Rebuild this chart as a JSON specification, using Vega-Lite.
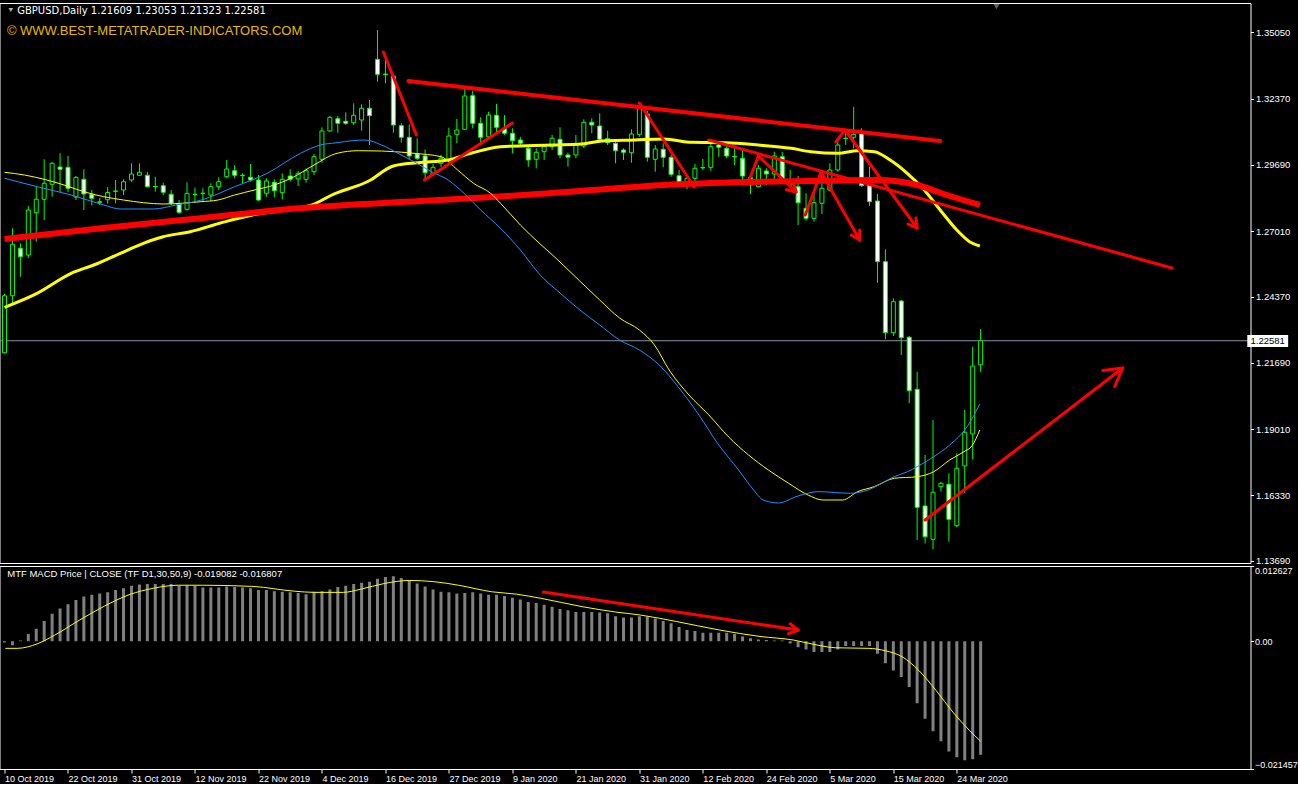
{
"$schema": "https://vega.github.io/schema/vega-lite/v6.json",
"background": "#000000",
"padding": {"left": -1.5, "top": 2, "right": 0, "bottom": 0},
"spacing": 3,
"bounds": "flush",
"config": {"view": {"stroke": "#ffffff", "strokeWidth": 1}, "text": {"font": "Liberation Sans"}},
"datasets": {
"candles": [
{"k":0,"o":1.22098,"h":1.24471,"l":1.22066,"c":1.24399},
{"k":1,"o":1.24403,"h":1.27127,"l":1.24027,"c":1.26480},
{"k":2,"o":1.26319,"h":1.26521,"l":1.25171,"c":1.25979},
{"k":3,"o":1.26048,"h":1.28029,"l":1.25927,"c":1.27867},
{"k":4,"o":1.27758,"h":1.28809,"l":1.26586,"c":1.28300},
{"k":5,"o":1.28300,"h":1.29917,"l":1.27463,"c":1.28946},
{"k":6,"o":1.28906,"h":1.29807,"l":1.28405,"c":1.29755},
{"k":7,"o":1.29605,"h":1.30159,"l":1.28595,"c":1.29512},
{"k":8,"o":1.29593,"h":1.30050,"l":1.28587,"c":1.28744},
{"k":9,"o":1.28392,"h":1.29241,"l":1.28271,"c":1.29185},
{"k":10,"o":1.29108,"h":1.29512,"l":1.27867,"c":1.28514},
{"k":11,"o":1.28502,"h":1.28675,"l":1.28049,"c":1.28340},
{"k":12,"o":1.28198,"h":1.28352,"l":1.28069,"c":1.28178},
{"k":13,"o":1.28283,"h":1.28797,"l":1.28122,"c":1.28574},
{"k":14,"o":1.28635,"h":1.29080,"l":1.28138,"c":1.28623},
{"k":15,"o":1.28675,"h":1.29108,"l":1.28473,"c":1.29011},
{"k":16,"o":1.29080,"h":1.29755,"l":1.29011,"c":1.29322},
{"k":17,"o":1.29270,"h":1.29755,"l":1.29262,"c":1.29391},
{"k":18,"o":1.29270,"h":1.29415,"l":1.28785,"c":1.28809},
{"k":19,"o":1.28817,"h":1.29213,"l":1.28607,"c":1.28805},
{"k":20,"o":1.28849,"h":1.28971,"l":1.28473,"c":1.28583},
{"k":21,"o":1.28502,"h":1.28675,"l":1.28069,"c":1.28138},
{"k":22,"o":1.28110,"h":1.28271,"l":1.27705,"c":1.27774},
{"k":23,"o":1.27895,"h":1.28987,"l":1.27839,"c":1.28542},
{"k":24,"o":1.28506,"h":1.28768,"l":1.28203,"c":1.28494},
{"k":25,"o":1.28546,"h":1.28744,"l":1.28203,"c":1.28534},
{"k":26,"o":1.28473,"h":1.28946,"l":1.28231,"c":1.28809},
{"k":27,"o":1.28809,"h":1.29189,"l":1.28675,"c":1.29011},
{"k":28,"o":1.29213,"h":1.29888,"l":1.29148,"c":1.29524},
{"k":29,"o":1.29456,"h":1.29686,"l":1.29148,"c":1.29270},
{"k":30,"o":1.29274,"h":1.29351,"l":1.28918,"c":1.29262},
{"k":31,"o":1.29189,"h":1.29726,"l":1.29011,"c":1.29080},
{"k":32,"o":1.29080,"h":1.29282,"l":1.28231,"c":1.28271},
{"k":33,"o":1.28542,"h":1.29148,"l":1.28405,"c":1.29039},
{"k":34,"o":1.28987,"h":1.29108,"l":1.28380,"c":1.28647},
{"k":35,"o":1.28566,"h":1.29351,"l":1.28300,"c":1.29108},
{"k":36,"o":1.29241,"h":1.29512,"l":1.29011,"c":1.29108},
{"k":37,"o":1.29120,"h":1.29444,"l":1.28837,"c":1.29351},
{"k":38,"o":1.29108,"h":1.29553,"l":1.28971,"c":1.29456},
{"k":39,"o":1.29415,"h":1.30131,"l":1.29282,"c":1.30022},
{"k":40,"o":1.29917,"h":1.31210,"l":1.29779,"c":1.31061},
{"k":41,"o":1.31061,"h":1.31667,"l":1.31032,"c":1.31614},
{"k":42,"o":1.31558,"h":1.31667,"l":1.30992,"c":1.31372},
{"k":43,"o":1.31453,"h":1.31816,"l":1.31303,"c":1.31372},
{"k":44,"o":1.31396,"h":1.32180,"l":1.31303,"c":1.31695},
{"k":45,"o":1.31505,"h":1.32140,"l":1.31073,"c":1.31978},
{"k":46,"o":1.31978,"h":1.32314,"l":1.30495,"c":1.31679},
{"k":47,"o":1.33959,"h":1.35143,"l":1.33053,"c":1.33352},
{"k":48,"o":1.33365,"h":1.33931,"l":1.32989,"c":1.33340},
{"k":49,"o":1.33284,"h":1.33324,"l":1.30992,"c":1.31303},
{"k":50,"o":1.31275,"h":1.31372,"l":1.30588,"c":1.30806},
{"k":51,"o":1.30806,"h":1.31331,"l":1.29917,"c":1.30050},
{"k":52,"o":1.30131,"h":1.30765,"l":1.29888,"c":1.29957},
{"k":53,"o":1.30050,"h":1.30321,"l":1.29108,"c":1.29375},
{"k":54,"o":1.29322,"h":1.29726,"l":1.29241,"c":1.29593},
{"k":55,"o":1.29755,"h":1.30090,"l":1.29617,"c":1.29957},
{"k":56,"o":1.29888,"h":1.31194,"l":1.29779,"c":1.30858},
{"k":57,"o":1.30927,"h":1.31546,"l":1.30563,"c":1.31101},
{"k":58,"o":1.31129,"h":1.32787,"l":1.31101,"c":1.32475},
{"k":59,"o":1.32487,"h":1.32690,"l":1.31170,"c":1.31372},
{"k":60,"o":1.31372,"h":1.31614,"l":1.30588,"c":1.30806},
{"k":61,"o":1.30830,"h":1.31841,"l":1.30806,"c":1.31707},
{"k":62,"o":1.31695,"h":1.32152,"l":1.30992,"c":1.31210},
{"k":63,"o":1.31170,"h":1.31707,"l":1.30899,"c":1.30968},
{"k":64,"o":1.30968,"h":1.31170,"l":1.30159,"c":1.30668},
{"k":65,"o":1.30697,"h":1.30830,"l":1.30495,"c":1.30563},
{"k":66,"o":1.30361,"h":1.30495,"l":1.29617,"c":1.29888},
{"k":67,"o":1.29917,"h":1.30361,"l":1.29553,"c":1.30199},
{"k":68,"o":1.30224,"h":1.30495,"l":1.29888,"c":1.30426},
{"k":69,"o":1.30426,"h":1.30899,"l":1.30292,"c":1.30765},
{"k":70,"o":1.30725,"h":1.31210,"l":1.29957,"c":1.30090},
{"k":71,"o":1.30090,"h":1.30183,"l":1.29617,"c":1.29997},
{"k":72,"o":1.30090,"h":1.30899,"l":1.29957,"c":1.30495},
{"k":73,"o":1.30454,"h":1.31533,"l":1.30361,"c":1.31412},
{"k":74,"o":1.31412,"h":1.31574,"l":1.30968,"c":1.31303},
{"k":75,"o":1.31263,"h":1.31776,"l":1.30588,"c":1.30725},
{"k":76,"o":1.30749,"h":1.31073,"l":1.30495,"c":1.30588},
{"k":77,"o":1.30563,"h":1.30697,"l":1.29755,"c":1.30264},
{"k":78,"o":1.30292,"h":1.30361,"l":1.29888,"c":1.30199},
{"k":79,"o":1.30183,"h":1.31129,"l":1.29779,"c":1.30939},
{"k":80,"o":1.30927,"h":1.32112,"l":1.30830,"c":1.31978},
{"k":81,"o":1.31748,"h":1.31881,"l":1.29819,"c":1.29997},
{"k":82,"o":1.29917,"h":1.30495,"l":1.29415,"c":1.30333},
{"k":83,"o":1.30321,"h":1.30563,"l":1.29593,"c":1.29997},
{"k":84,"o":1.29997,"h":1.30090,"l":1.29213,"c":1.29310},
{"k":85,"o":1.29254,"h":1.29484,"l":1.28809,"c":1.28971},
{"k":86,"o":1.28878,"h":1.29282,"l":1.28716,"c":1.29148},
{"k":87,"o":1.29148,"h":1.29726,"l":1.28946,"c":1.29553},
{"k":88,"o":1.29585,"h":1.29929,"l":1.29484,"c":1.29569},
{"k":89,"o":1.29593,"h":1.30697,"l":1.29456,"c":1.30426},
{"k":90,"o":1.30495,"h":1.30588,"l":1.30022,"c":1.30402},
{"k":91,"o":1.30361,"h":1.30495,"l":1.29957,"c":1.30050},
{"k":92,"o":1.30030,"h":1.30426,"l":1.29686,"c":1.30018},
{"k":93,"o":1.29957,"h":1.30292,"l":1.29011,"c":1.29241},
{"k":94,"o":1.29173,"h":1.29282,"l":1.28514,"c":1.28878},
{"k":95,"o":1.28809,"h":1.29686,"l":1.28785,"c":1.29553},
{"k":96,"o":1.29444,"h":1.29553,"l":1.28878,"c":1.29322},
{"k":97,"o":1.29322,"h":1.30224,"l":1.29080,"c":1.30050},
{"k":98,"o":1.30022,"h":1.30224,"l":1.29011,"c":1.29108},
{"k":99,"o":1.28878,"h":1.29484,"l":1.28809,"c":1.29080},
{"k":100,"o":1.28809,"h":1.29241,"l":1.27261,"c":1.28162},
{"k":101,"o":1.27936,"h":1.28542,"l":1.27434,"c":1.27531},
{"k":102,"o":1.27531,"h":1.28607,"l":1.27394,"c":1.28162},
{"k":103,"o":1.28138,"h":1.29351,"l":1.27705,"c":1.28744},
{"k":104,"o":1.28675,"h":1.29755,"l":1.28607,"c":1.29484},
{"k":105,"o":1.29484,"h":1.30628,"l":1.29415,"c":1.30495},
{"k":106,"o":1.30769,"h":1.31101,"l":1.30495,"c":1.30757},
{"k":107,"o":1.30806,"h":1.32043,"l":1.30361,"c":1.30927},
{"k":108,"o":1.30968,"h":1.31170,"l":1.28809,"c":1.28849},
{"k":109,"o":1.28906,"h":1.29617,"l":1.28029,"c":1.28203},
{"k":110,"o":1.28231,"h":1.28514,"l":1.24928,"c":1.25777},
{"k":111,"o":1.25777,"h":1.26278,"l":1.22640,"c":1.22907},
{"k":112,"o":1.22907,"h":1.24298,"l":1.22774,"c":1.24160},
{"k":113,"o":1.24188,"h":1.24229,"l":1.22006,"c":1.22705},
{"k":114,"o":1.22722,"h":1.22774,"l":1.20053,"c":1.20562},
{"k":115,"o":1.20619,"h":1.21330,"l":1.14527,"c":1.15849},
{"k":116,"o":1.15902,"h":1.17963,"l":1.14394,"c":1.14660},
{"k":117,"o":1.14555,"h":1.19378,"l":1.14151,"c":1.16455},
{"k":118,"o":1.16682,"h":1.16884,"l":1.16480,"c":1.16819},
{"k":119,"o":1.16779,"h":1.17223,"l":1.14458,"c":1.15364},
{"k":120,"o":1.15105,"h":1.18032,"l":1.15040,"c":1.17425},
{"k":121,"o":1.17518,"h":1.19782,"l":1.16415,"c":1.18881},
{"k":122,"o":1.18812,"h":1.22341,"l":1.17789,"c":1.21561},
{"k":123,"o":1.21609,"h":1.23053,"l":1.21323,"c":1.22581}
],
"ma": [
{"s":"blue","k":0,"p":1.29148},{"s":"blue","k":4.1,"p":1.28809},{"s":"blue","k":8.4,"p":1.28473},{"s":"blue","k":12.5,"p":1.28069},{"s":"blue","k":14.6,"p":1.27907},{"s":"blue","k":18.8,"p":1.27907},{"s":"blue","k":21.6,"p":1.28069},{"s":"blue","k":24.8,"p":1.28271},{"s":"blue","k":29,"p":1.28809},{"s":"blue","k":33.1,"p":1.29351},{"s":"blue","k":37.3,"p":1.30159},{"s":"blue","k":39.8,"p":1.30495},{"s":"blue","k":41.9,"p":1.30588},{"s":"blue","k":43.8,"p":1.30668},{"s":"blue","k":45.4,"p":1.30697},{"s":"blue","k":47.5,"p":1.30495},{"s":"blue","k":49.6,"p":1.30159},{"s":"blue","k":51.6,"p":1.29819},{"s":"blue","k":53.8,"p":1.29415},{"s":"blue","k":55.9,"p":1.29080},{"s":"blue","k":57.9,"p":1.28542},{"s":"blue","k":60,"p":1.27867},{"s":"blue","k":62.5,"p":1.27127},{"s":"blue","k":65,"p":1.26250},{"s":"blue","k":67.5,"p":1.25239},{"s":"blue","k":70,"p":1.24512},{"s":"blue","k":72.5,"p":1.23825},{"s":"blue","k":75,"p":1.23218},{"s":"blue","k":77.5,"p":1.22612},{"s":"blue","k":80,"p":1.22208},{"s":"blue","k":82.5,"p":1.21601},{"s":"blue","k":85,"p":1.20672},{"s":"blue","k":87.5,"p":1.19580},{"s":"blue","k":90,"p":1.18367},{"s":"blue","k":92.5,"p":1.17357},{"s":"blue","k":94.4,"p":1.16548},{"s":"blue","k":95.6,"p":1.16144},{"s":"blue","k":97.5,"p":1.16023},{"s":"blue","k":100,"p":1.16306},{"s":"blue","k":102.5,"p":1.16480},{"s":"blue","k":106.6,"p":1.16415},{"s":"blue","k":108.8,"p":1.16548},{"s":"blue","k":110.9,"p":1.16884},{"s":"blue","k":112.1,"p":1.17086},{"s":"blue","k":113.8,"p":1.17288},{"s":"blue","k":115,"p":1.17490},{"s":"blue","k":117.1,"p":1.17894},{"s":"blue","k":119.1,"p":1.18367},{"s":"blue","k":121.3,"p":1.19107},{"s":"blue","k":122.9,"p":1.20025},
{"s":"ythin","k":0,"p":1.29391},{"s":"ythin","k":2.5,"p":1.29282},{"s":"ythin","k":5,"p":1.29108},{"s":"ythin","k":7.5,"p":1.28878},{"s":"ythin","k":10,"p":1.28607},{"s":"ythin","k":12.5,"p":1.28405},{"s":"ythin","k":15,"p":1.28271},{"s":"ythin","k":17.5,"p":1.28162},{"s":"ythin","k":20,"p":1.28110},{"s":"ythin","k":24.75,"p":1.28203},{"s":"ythin","k":26.9,"p":1.28271},{"s":"ythin","k":29,"p":1.28473},{"s":"ythin","k":31.5,"p":1.28675},{"s":"ythin","k":34,"p":1.28878},{"s":"ythin","k":36.5,"p":1.29213},{"s":"ythin","k":39,"p":1.29686},{"s":"ythin","k":41.9,"p":1.30159},{"s":"ythin","k":44.6,"p":1.30264},{"s":"ythin","k":47.5,"p":1.30252},{"s":"ythin","k":51.6,"p":1.30159},{"s":"ythin","k":55,"p":1.30022},{"s":"ythin","k":57.1,"p":1.29484},{"s":"ythin","k":59.1,"p":1.28946},{"s":"ythin","k":61.25,"p":1.28542},{"s":"ythin","k":62.5,"p":1.28138},{"s":"ythin","k":65,"p":1.27261},{"s":"ythin","k":70,"p":1.25765},{"s":"ythin","k":75,"p":1.24229},{"s":"ythin","k":77.5,"p":1.23501},{"s":"ythin","k":80,"p":1.23016},{"s":"ythin","k":81.9,"p":1.22410},{"s":"ythin","k":83.75,"p":1.21399},{"s":"ythin","k":86.25,"p":1.20389},{"s":"ythin","k":88.75,"p":1.19580},{"s":"ythin","k":91.25,"p":1.18691},{"s":"ythin","k":93.75,"p":1.17963},{"s":"ythin","k":96.25,"p":1.17357},{"s":"ythin","k":98.75,"p":1.16831},{"s":"ythin","k":101.25,"p":1.16346},{"s":"ythin","k":103.1,"p":1.16144},{"s":"ythin","k":105.6,"p":1.16144},{"s":"ythin","k":107.5,"p":1.16480},{"s":"ythin","k":109.6,"p":1.16682},{"s":"ythin","k":112.1,"p":1.17021},{"s":"ythin","k":115,"p":1.17086},{"s":"ythin","k":117.1,"p":1.17288},{"s":"ythin","k":119.1,"p":1.17761},{"s":"ythin","k":120.9,"p":1.18097},{"s":"ythin","k":121.9,"p":1.18327},{"s":"ythin","k":122.9,"p":1.18974},
{"s":"ythick","k":0,"p":1.23934},{"s":"ythick","k":4.1,"p":1.24499},{"s":"ythick","k":8.4,"p":1.25308},{"s":"ythick","k":11.25,"p":1.25644},{"s":"ythick","k":14.6,"p":1.26117},{"s":"ythick","k":17.5,"p":1.26521},{"s":"ythick","k":20,"p":1.26788},{"s":"ythick","k":23.4,"p":1.26990},{"s":"ythick","k":27.1,"p":1.27329},{"s":"ythick","k":31.25,"p":1.27665},{"s":"ythick","k":35.4,"p":1.27867},{"s":"ythick","k":38.75,"p":1.28069},{"s":"ythick","k":41.25,"p":1.28473},{"s":"ythick","k":45.9,"p":1.29039},{"s":"ythick","k":49,"p":1.29646},{"s":"ythick","k":52.1,"p":1.29779},{"s":"ythick","k":55.9,"p":1.29888},{"s":"ythick","k":58.75,"p":1.30159},{"s":"ythick","k":62.5,"p":1.30426},{"s":"ythick","k":69,"p":1.30495},{"s":"ythick","k":72.75,"p":1.30535},{"s":"ythick","k":75.25,"p":1.30656},{"s":"ythick","k":79.4,"p":1.30697},{"s":"ythick","k":83.1,"p":1.30737},{"s":"ythick","k":86.6,"p":1.30604},{"s":"ythick","k":90.9,"p":1.30588},{"s":"ythick","k":95,"p":1.30495},{"s":"ythick","k":99.1,"p":1.30361},{"s":"ythick","k":101.6,"p":1.30224},{"s":"ythick","k":105,"p":1.30159},{"s":"ythick","k":107.5,"p":1.30264},{"s":"ythick","k":109.6,"p":1.30224},{"s":"ythick","k":111.6,"p":1.29888},{"s":"ythick","k":113.75,"p":1.29351},{"s":"ythick","k":115.9,"p":1.28675},{"s":"ythick","k":117.9,"p":1.27867},{"s":"ythick","k":120,"p":1.27059},{"s":"ythick","k":121.6,"p":1.26586},{"s":"ythick","k":122.9,"p":1.26412},
{"s":"rthick","k":0,"p":1.26695},{"s":"rthick","k":12.5,"p":1.27139},{"s":"rthick","k":25,"p":1.27544},{"s":"rthick","k":37.5,"p":1.27948},{"s":"rthick","k":52.5,"p":1.28231},{"s":"rthick","k":61.9,"p":1.28401},{"s":"rthick","k":72.5,"p":1.28635},{"s":"rthick","k":83.1,"p":1.28878},{"s":"rthick","k":93.75,"p":1.28999},{"s":"rthick","k":103.75,"p":1.29051},{"s":"rthick","k":110,"p":1.29080},{"s":"rthick","k":115,"p":1.28878},{"s":"rthick","k":118.75,"p":1.28473},{"s":"rthick","k":122.9,"p":1.28069}
],
"objs": [
{"id":"r2","kind":"heavy","i":0,"k":50.9,"p":1.33082},{"id":"r2","kind":"heavy","i":1,"k":117.9,"p":1.30656},
{"id":"r3","kind":"light","i":0,"k":47.75,"p":1.34254},{"id":"r3","kind":"light","i":1,"k":51.9,"p":1.30899},
{"id":"r4","kind":"light","i":0,"k":52.9,"p":1.29080},{"id":"r4","kind":"light","i":1,"k":64,"p":1.31384},
{"id":"r5","kind":"light","i":0,"k":80,"p":1.32192},{"id":"r5","kind":"light","i":1,"k":86.9,"p":1.28797},
{"id":"r6","kind":"light","i":0,"k":88.75,"p":1.30697},{"id":"r6","kind":"light","i":1,"k":147.1,"p":1.25522},
{"id":"r7","kind":"light","i":0,"k":93.75,"p":1.28999},{"id":"r7","kind":"light","i":1,"k":95,"p":1.30050},{"id":"r7","kind":"light","i":2,"k":99.75,"p":1.28595},
{"id":"r7h","kind":"light","i":0,"k":99.4,"p":1.28983},{"id":"r7h","kind":"light","i":1,"k":99.75,"p":1.28595},{"id":"r7h","kind":"light","i":2,"k":98.5,"p":1.28688},
{"id":"r8","kind":"light","i":0,"k":100.9,"p":1.27665},{"id":"r8","kind":"light","i":1,"k":102.9,"p":1.29403},{"id":"r8","kind":"light","i":2,"k":107.75,"p":1.26654},
{"id":"r8h","kind":"light","i":0,"k":107.75,"p":1.27059},{"id":"r8h","kind":"light","i":1,"k":107.75,"p":1.26654},{"id":"r8h","kind":"light","i":2,"k":106.7,"p":1.26856},
{"id":"r9","kind":"light","i":0,"k":104.75,"p":1.30616},{"id":"r9","kind":"light","i":1,"k":105.9,"p":1.31101},{"id":"r9","kind":"light","i":2,"k":115,"p":1.27139},
{"id":"r9h","kind":"light","i":0,"k":114.85,"p":1.27544},{"id":"r9h","kind":"light","i":1,"k":115,"p":1.27139},{"id":"r9h","kind":"light","i":2,"k":113.85,"p":1.27301},
{"id":"r11","kind":"light","i":0,"k":116,"p":1.15336},{"id":"r11","kind":"light","i":1,"k":140.9,"p":1.21480},
{"id":"r11h","kind":"light","i":0,"k":138.4,"p":1.21375},{"id":"r11h","kind":"light","i":1,"k":140.9,"p":1.21480},{"id":"r11h","kind":"light","i":2,"k":139.9,"p":1.20732}
],
"macd": [
{"k":0,"v":-0.0002},{"k":1,"v":-0.0007},{"k":2,"v":0.0001},{"k":3,"v":0.0012},{"k":4,"v":0.0021},{"k":5,"v":0.0034},{"k":6,"v":0.0046},{"k":7,"v":0.0055},{"k":8,"v":0.0062},{"k":9,"v":0.0069},{"k":10,"v":0.0075},{"k":11,"v":0.0078},{"k":12,"v":0.0080},{"k":13,"v":0.0082},{"k":14,"v":0.0086},{"k":15,"v":0.0089},{"k":16,"v":0.0093},{"k":17,"v":0.0095},{"k":18,"v":0.0096},{"k":19,"v":0.0096},{"k":20,"v":0.0096},{"k":21,"v":0.0096},{"k":22,"v":0.0093},{"k":23,"v":0.0094},{"k":24,"v":0.0093},{"k":25,"v":0.0090},{"k":26,"v":0.0090},{"k":27,"v":0.0090},{"k":28,"v":0.0092},{"k":29,"v":0.0091},{"k":30,"v":0.0090},{"k":31,"v":0.0089},{"k":32,"v":0.0086},{"k":33,"v":0.0086},{"k":34,"v":0.0084},{"k":35,"v":0.0083},{"k":36,"v":0.0082},{"k":37,"v":0.0081},{"k":38,"v":0.0079},{"k":39,"v":0.0083},{"k":40,"v":0.0084},{"k":41,"v":0.0087},{"k":42,"v":0.0091},{"k":43,"v":0.0093},{"k":44,"v":0.0096},{"k":45,"v":0.0098},{"k":46,"v":0.0100},{"k":47,"v":0.0105},{"k":48,"v":0.0108},{"k":49,"v":0.0109},{"k":50,"v":0.0106},{"k":51,"v":0.0102},{"k":52,"v":0.0097},{"k":53,"v":0.0092},{"k":54,"v":0.0087},{"k":55,"v":0.0083},{"k":56,"v":0.0082},{"k":57,"v":0.0080},{"k":58,"v":0.0081},{"k":59,"v":0.0082},{"k":60,"v":0.0080},{"k":61,"v":0.0078},{"k":62,"v":0.0078},{"k":63,"v":0.0076},{"k":64,"v":0.0073},{"k":65,"v":0.0070},{"k":66,"v":0.0066},{"k":67,"v":0.0064},{"k":68,"v":0.0061},{"k":69,"v":0.0058},{"k":70,"v":0.0054},{"k":71,"v":0.0052},{"k":72,"v":0.0049},{"k":73,"v":0.0049},{"k":74,"v":0.0049},{"k":75,"v":0.0048},{"k":76,"v":0.0047},{"k":77,"v":0.0042},{"k":78,"v":0.0040},{"k":79,"v":0.0040},{"k":80,"v":0.0042},{"k":81,"v":0.0041},{"k":82,"v":0.0038},{"k":83,"v":0.0034},{"k":84,"v":0.0030},{"k":85,"v":0.0024},{"k":86,"v":0.0019},{"k":87,"v":0.0017},{"k":88,"v":0.0014},{"k":89,"v":0.0014},{"k":90,"v":0.0014},{"k":91,"v":0.0014},{"k":92,"v":0.0012},{"k":93,"v":0.0008},{"k":94,"v":0.0005},{"k":95,"v":0.0003},{"k":96,"v":0.0002},{"k":97,"v":0.0001},{"k":98,"v":0.0001},{"k":99,"v":-0.0004},{"k":100,"v":-0.0010},{"k":101,"v":-0.0014},{"k":102,"v":-0.0018},{"k":103,"v":-0.0018},{"k":104,"v":-0.0018},{"k":105,"v":-0.0014},{"k":106,"v":-0.0008},{"k":107,"v":-0.0008},{"k":108,"v":-0.0008},{"k":109,"v":-0.0008},{"k":110,"v":-0.0021},{"k":111,"v":-0.0037},{"k":112,"v":-0.0049},{"k":113,"v":-0.0060},{"k":114,"v":-0.0077},{"k":115,"v":-0.0104},{"k":116,"v":-0.0130},{"k":117,"v":-0.0151},{"k":118,"v":-0.0168},{"k":119,"v":-0.0185},{"k":120,"v":-0.0195},{"k":121,"v":-0.0200},{"k":122,"v":-0.0198},{"k":123,"v":-0.019082}
],
"sig": [
{"k":0.1,"v":-0.0012},{"k":1.6,"v":-0.0012},{"k":4.2,"v":-0.0004},{"k":6.3,"v":0.0010},{"k":9.4,"v":0.0035},{"k":12.6,"v":0.0059},{"k":15.7,"v":0.0078},{"k":18.8,"v":0.0089},{"k":21.9,"v":0.0094},{"k":25,"v":0.0094},{"k":31.3,"v":0.0092},{"k":36.5,"v":0.0084},{"k":39.1,"v":0.0082},{"k":42.7,"v":0.0082},{"k":44.8,"v":0.0087},{"k":47.9,"v":0.0097},{"k":51,"v":0.0102},{"k":54.1,"v":0.0100},{"k":57.2,"v":0.0094},{"k":61.4,"v":0.0083},{"k":64.5,"v":0.0079},{"k":67.6,"v":0.0072},{"k":72.8,"v":0.0058},{"k":77,"v":0.0049},{"k":80.1,"v":0.0044},{"k":84.7,"v":0.0033},{"k":90,"v":0.0019},{"k":95.2,"v":0.0008},{"k":99.4,"v":0.0002},{"k":102.6,"v":-0.0007},{"k":104.7,"v":-0.0011},{"k":108.9,"v":-0.0012},{"k":111,"v":-0.0016},{"k":113.1,"v":-0.0026},{"k":115.2,"v":-0.0049},{"k":117.4,"v":-0.0083},{"k":119.5,"v":-0.0119},{"k":121.6,"v":-0.0150},{"k":123,"v":-0.016807}
],
"macdobjs": [
{"id":"a","i":0,"k":67.9,"v":0.008262},{"id":"a","i":1,"k":100,"v":0.001881},
{"id":"ah","i":0,"k":99.0,"v":0.002922},{"id":"ah","i":1,"k":100,"v":0.001881},{"id":"ah","i":2,"k":98.8,"v":0.001260}
]
},
"vconcat": [
{
"width": 1251, "height": 560,
"layer": [
{"data": {"values": [{"p": 1.22581}]},
 "mark": {"type": "rule", "color": "#8494a4", "strokeWidth": 1, "clip": true},
 "encoding": {"y": {"field": "p", "type": "quantitative", "scale": {"domain": [1.13597, 1.36235], "nice": false, "zero": false},
   "axis": {"orient": "right", "title": null, "values": [1.35050,1.33690,1.32370,1.31050,1.29690,1.28370,1.27010,1.25690,1.24370,1.23010,1.21690,1.20330,1.19010,1.17690,1.16330,1.15010,1.13690], "format": ".5f", "domain": false, "grid": false, "tickColor": "#ffffff", "tickSize": 3, "labelColor": "#ffffff", "labelFont": "Liberation Sans", "labelFontSize": 9.5, "labelPadding": 2}}}},
{"data": {"name": "candles"},
 "mark": {"type": "rule", "color": "#00ff00", "strokeWidth": 1, "clip": true},
 "encoding": {"x": {"field": "k", "type": "quantitative", "scale": {"domain": [0, 156.375], "nice": false, "zero": false}, "axis": null},
   "y": {"field": "l", "type": "quantitative"}, "y2": {"field": "h"}}},
{"data": {"name": "candles"},
 "mark": {"type": "bar", "size": 4, "stroke": "#00ff00", "strokeWidth": 1, "clip": true},
 "encoding": {"x": {"field": "k", "type": "quantitative"},
   "y": {"field": "o", "type": "quantitative"}, "y2": {"field": "c"},
   "fill": {"condition": {"test": "datum.c >= datum.o", "value": "#000000"}, "value": "#ffffff"}}},
{"data": {"name": "ma"}, "transform": [{"filter": "datum.s == 'ythick'"}],
 "mark": {"type": "line", "color": "#ffff00", "strokeWidth": 3, "interpolate": "monotone", "clip": true},
 "encoding": {"x": {"field": "k", "type": "quantitative"}, "y": {"field": "p", "type": "quantitative"}}},
{"data": {"name": "ma"}, "transform": [{"filter": "datum.s == 'rthick'"}],
 "mark": {"type": "line", "color": "#ff0000", "strokeWidth": 6, "interpolate": "monotone", "clip": true},
 "encoding": {"x": {"field": "k", "type": "quantitative"}, "y": {"field": "p", "type": "quantitative"}}},
{"data": {"name": "ma"}, "transform": [{"filter": "datum.s == 'ythin'"}],
 "mark": {"type": "line", "color": "#ffff00", "strokeWidth": 1, "interpolate": "monotone", "clip": true},
 "encoding": {"x": {"field": "k", "type": "quantitative"}, "y": {"field": "p", "type": "quantitative"}}},
{"data": {"name": "ma"}, "transform": [{"filter": "datum.s == 'blue'"}],
 "mark": {"type": "line", "color": "#1e90ff", "strokeWidth": 1, "interpolate": "monotone", "clip": true},
 "encoding": {"x": {"field": "k", "type": "quantitative"}, "y": {"field": "p", "type": "quantitative"}}},
{"data": {"name": "objs"},
 "mark": {"type": "line", "color": "#ff0000", "clip": true, "strokeCap": "round", "strokeJoin": "round"},
 "encoding": {"x": {"field": "k", "type": "quantitative"}, "y": {"field": "p", "type": "quantitative"},
   "detail": {"field": "id"}, "order": {"field": "i"},
   "strokeWidth": {"field": "kind", "type": "nominal", "scale": {"domain": ["light", "heavy"], "range": [3, 4]}, "legend": null}}},
{"data": {"values": [{"t": "GBPUSD,Daily  1.21609 1.23053 1.21323 1.22581"}]},
 "mark": {"type": "text", "color": "#ffffff", "font": "DejaVu Sans", "fontSize": 10, "align": "left", "baseline": "middle", "clip": true},
 "encoding": {"x": {"datum": 1.6}, "y": {"datum": 1.35911}, "text": {"field": "t"}}},
{"data": {"values": [{"t": "© WWW.BEST-METATRADER-INDICATORS.COM"}]},
 "mark": {"type": "text", "color": "#e8b800", "fontSize": 13, "align": "left", "baseline": "middle", "clip": true},
 "encoding": {"x": {"datum": 0.3}, "y": {"datum": 1.35103}, "text": {"field": "t"}}},
{"data": {"values": [{"t": "tri"}]},
 "mark": {"type": "point", "shape": "triangle-down", "filled": true, "color": "#ffffff", "size": 22, "clip": true},
 "encoding": {"x": {"datum": 0.8}, "y": {"datum": 1.35952}}},
{"data": {"values": [{"t": "shift"}]},
 "mark": {"type": "point", "shape": "triangle-down", "filled": true, "color": "#8a8a8a", "size": 40, "clip": true},
 "encoding": {"x": {"datum": 125}, "y": {"datum": 1.3609}}},
{"data": {"values": [{"p": 1.22581}]},
 "mark": {"type": "rect", "color": "#ffffff", "clip": false},
 "encoding": {"x": {"datum": 156.6}, "x2": {"datum": 161.75}, "y": {"datum": 1.22329}, "y2": {"datum": 1.22814}}},
{"data": {"values": [{"p": 1.22581}]},
 "mark": {"type": "text", "color": "#000000", "fontSize": 9.5, "align": "left", "baseline": "middle", "clip": false},
 "encoding": {"x": {"datum": 157.0}, "y": {"field": "p", "type": "quantitative"}, "text": {"field": "p", "format": ".5f"}}}
]
},
{
"width": 1251, "height": 203,
"layer": [
{"data": {"name": "macd"},
 "mark": {"type": "bar", "size": 3, "color": "#808080", "clip": true},
 "encoding": {"x": {"field": "k", "type": "quantitative", "scale": {"domain": [0, 156.375], "nice": false, "zero": false},
   "axis": {"orient": "bottom", "title": null, "values": [0,8,16,24,32,40,48,56,64,72,80,88,96,104,112,120],
     "labelExpr": "['10 Oct 2019','22 Oct 2019','31 Oct 2019','12 Nov 2019','22 Nov 2019','4 Dec 2019','16 Dec 2019','27 Dec 2019','9 Jan 2020','21 Jan 2020','31 Jan 2020','12 Feb 2020','24 Feb 2020','5 Mar 2020','15 Mar 2020','24 Mar 2020'][round(datum.value/8)]",
     "labelAlign": "left", "labelDx": 0, "domain": false, "grid": false, "tickColor": "#ffffff", "tickSize": 4, "labelColor": "#ffffff", "labelFont": "Liberation Sans", "labelFontSize": 9, "labelPadding": 1, "labelFlush": false, "labelOverlap": false}},
   "y": {"field": "v", "type": "quantitative", "scale": {"domain": [-0.021457, 0.012627], "nice": false, "zero": false},
     "axis": {"orient": "right", "title": null, "values": [0.012627, 0, -0.021457], "labelExpr": "datum.value == 0 ? '0.00' : format(datum.value, '.6f')", "labelFlush": true, "domain": false, "grid": false, "tickColor": "#ffffff", "tickSize": 3, "labelColor": "#ffffff", "labelFont": "Liberation Sans", "labelFontSize": 9, "labelPadding": 1}},
   "y2": {"datum": 0}}},
{"data": {"name": "sig"},
 "mark": {"type": "line", "color": "#ffff00", "strokeWidth": 1, "interpolate": "monotone", "clip": true},
 "encoding": {"x": {"field": "k", "type": "quantitative"}, "y": {"field": "v", "type": "quantitative"}}},
{"data": {"name": "macdobjs"},
 "mark": {"type": "line", "color": "#ff0000", "strokeWidth": 3, "clip": true, "strokeCap": "round", "strokeJoin": "round"},
 "encoding": {"x": {"field": "k", "type": "quantitative"}, "y": {"field": "v", "type": "quantitative"}, "detail": {"field": "id"}, "order": {"field": "i"}}},
{"data": {"values": [{"t": "MTF MACD Price | CLOSE  (TF D1,30,50,9) -0.019082 -0.016807"}]},
 "mark": {"type": "text", "color": "#ffffff", "fontSize": 9.5, "align": "left", "baseline": "middle", "clip": true},
 "encoding": {"x": {"datum": 0.35}, "y": {"datum": 0.011284}, "text": {"field": "t"}}}
]
}
]
}
